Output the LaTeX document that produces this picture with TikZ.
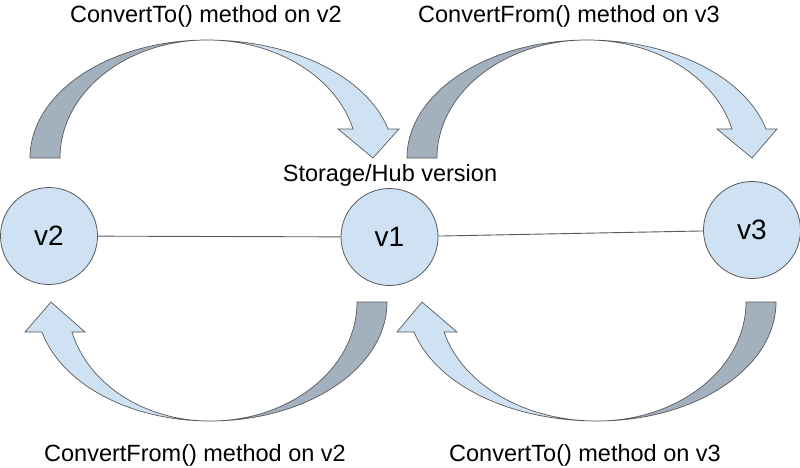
\documentclass[tikz,border=0pt]{standalone}
\usepackage{fontspec}
\setmainfont{Liberation Sans}
\definecolor{lightfill}{HTML}{CFE2F3}
\definecolor{darkfill}{HTML}{A3B0BE}
\definecolor{edgegray}{HTML}{595959}
\tikzset{
 vnode/.style={circle, draw=edgegray, fill=lightfill, line width=0.8pt, minimum size=97pt, inner sep=0pt, font=\fontsize{28}{32}\selectfont},
 lbl/.style={font=\fontsize{23.5}{28}\selectfont, inner sep=0pt},
 darkpart/.style={draw=edgegray, fill=darkfill, line width=0.7pt, line join=round},
 lightpart/.style={draw=edgegray, fill=lightfill, line width=0.7pt, line join=miter},
 link/.style={draw=edgegray, line width=0.9pt}
}
% cx, Lo, Li, Ro, Ri, wing left, wing right, tip
\newcommand\TopArrow[8]{%
  \path[darkpart] ({#1-#2},158) .. controls ({#1-#2},92.8) and ({#1-0.5523*#2},40) .. (#1,40)
     .. controls ({#1-0.5523*#3},40) and ({#1-#3},92.8) .. ({#1-#3},158) -- cycle;
  \path[lightpart] (#1,40) .. controls ({#1+0.4577*#4},40) and ({#1+0.969*#4-0.1125*#4},76.7) .. ({#1+0.969*#4},129)
     -- (#7,129) -- (#8,158) -- (#6,129) -- ({#1+0.969*#5},129)
     .. controls ({#1+0.969*#5-0.1125*#5},76.7) and ({#1+0.4577*#5},40) .. (#1,40) -- cycle;
}
\newcommand\BotArrow[8]{%
  \path[darkpart] ({#1+#2},302) .. controls ({#1+#2},367.7) and ({#1+0.5523*#2},421) .. (#1,421)
     .. controls ({#1+0.5523*#3},421) and ({#1+#3},367.7) .. ({#1+#3},302) -- cycle;
  \path[lightpart] (#1,421) .. controls ({#1-0.4577*#4},421) and ({#1-0.968*#4+0.1153*#4},384.7) .. ({#1-0.968*#4},332)
     -- (#6,332) -- (#8,302) -- (#7,332) -- ({#1-0.968*#5},332)
     .. controls ({#1-0.968*#5+0.1153*#5},384.7) and ({#1-0.4577*#5},421) .. (#1,421) -- cycle;
}
\begin{document}
\begin{tikzpicture}[x=1pt,y=-1pt]
\useasboundingbox (0,0) rectangle (800,467);
\fill[white] (0,0) rectangle (800,467);
\TopArrow{207}{177}{147}{186.8}{150.7}{338}{399}{373}
\TopArrow{587}{180}{150}{184.7}{149.6}{717}{777}{752}
\BotArrow{210}{177}{147}{173.6}{142.6}{25}{85}{51}
\BotArrow{597}{179}{149}{189}{158}{397}{457}{422}
\node[vnode] (v2) at (49,236) {v2};
\node[vnode] (v1) at (389.5,237) {v1};
\node[vnode] (v3) at (752,230) {v3};
\draw[link] (v2) -- (v1);
\draw[link] (v1) -- (v3);
\node[lbl] (t1) at (206,16) {ConvertTo() method on v2};
\node[lbl] (t2) at (569,16) {ConvertFrom() method on v3};
\node[lbl] (t3) at (390,175) {Storage/Hub version};
\node[lbl] (t4) at (195,455) {ConvertFrom() method on v2};
\node[lbl] (t5) at (585,455) {ConvertTo() method on v3};
\end{tikzpicture}
\end{document}
